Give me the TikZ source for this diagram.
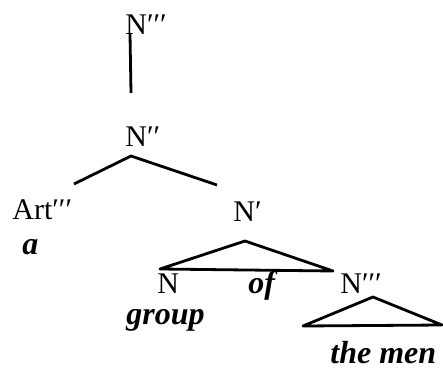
\documentclass[tikz,border=0pt]{standalone}
\usepackage{fontspec}
\setmainfont{Liberation Serif}
\usetikzlibrary{positioning}

\begin{document}
\begin{tikzpicture}[x=0.5pt, y=-0.5pt,
    lab/.style={anchor=base west, inner sep=0pt, font=\fontsize{15}{17}\selectfont},
    word/.style={lab, font=\fontsize{16}{18}\selectfont\bfseries\itshape},
    branch/.style={line width=1.4pt, line join=round}]
      \useasboundingbox (0,0) rectangle (443,368);

      % labels
      \node[lab] (Ntop) at (125, 35) {N′′′};
      \node[lab] (Nbar2) at (125, 147) {N′′};
      \node[lab] (art) at (12, 220) {Art′′′};
      \node[word] (a) at (22, 255) {a};
      \node[lab] (Nbar1) at (233, 222) {N′};
      \node[lab] (N) at (157, 293) {N};
      \node[word] (of) at (248, 293) {of};
      \node[lab] (Nlow) at (340, 293) {N′′′};
      \node[word] (group) at (126, 324) {group};
      \node[word] (themen) at (330, 363) {the men};

      % branch points
      \coordinate (v0) at (130, 34);
      \coordinate (v1) at (131, 93);
      \coordinate (p0) at (131, 156);
      \coordinate (p1) at (74, 184);
      \coordinate (p2) at (217, 185);
      \coordinate (q0) at (245, 241);
      \coordinate (q1) at (160, 269);
      \coordinate (q2) at (333, 271);
      \coordinate (r0) at (373, 297);
      \coordinate (r1) at (303, 326);
      \coordinate (r2) at (442, 325);

      \draw[branch] (v0) -- (v1);
      \draw[branch] (p1) -- (p0) -- (p2);
      \draw[branch] (q0) -- (q1) -- (q2) -- cycle;
      \draw[branch] (r0) -- (r1) -- (r2) -- cycle;
\end{tikzpicture}
\end{document}
